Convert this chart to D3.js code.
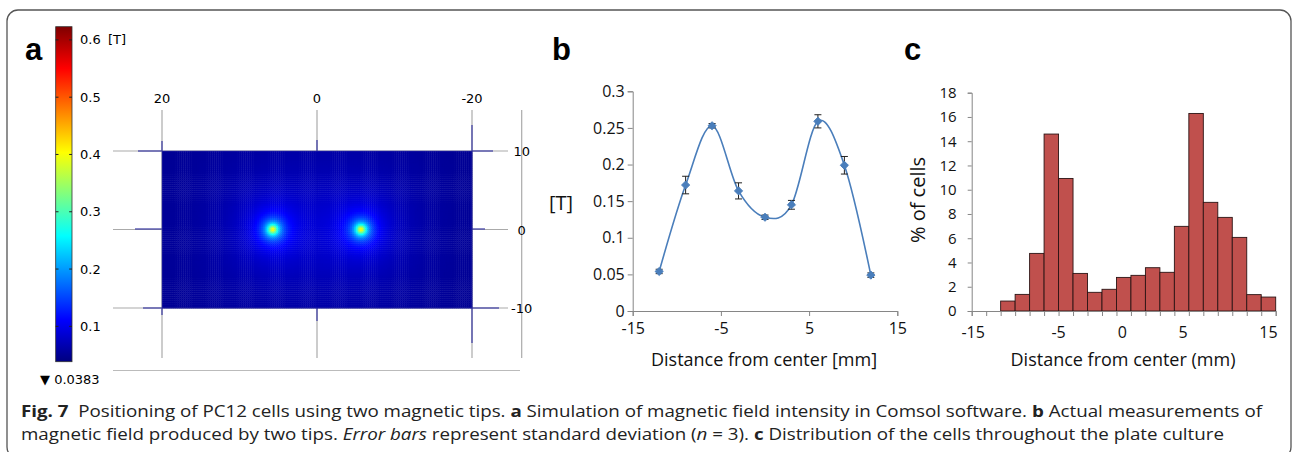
<!DOCTYPE html>
<html lang="en">
<head>
<meta charset="UTF-8">
<title>Fig. 7</title>
<script src="https://cdn.jsdelivr.net/npm/d3@7"></script>
<style>
  body { margin: 0; background: #fff; }
  text { font-family: "Open Sans", "Noto Sans", sans-serif; }
</style>
</head>
<body>
<script>
// ---- panel a : simulated field (two tips) ----
var tipX = [5.7, -5.7];          // mm
var tipY = [0, 0];
var tipPeak = [0.36, 0.36];      // T above the floor
var fieldFloor = 0.0383;         // T, colour bar minimum
var fieldMax = 0.623;
var fieldSpread = 0.5;           // mm
var fieldFalloff = 0.55;
var cbTicks = [0.1, 0.2, 0.3, 0.4, 0.5, 0.6];
var aXTicks = [20, 0, -20];
var aYTicks = [10, 0, -10];

// ---- panel b : measured field ----
var bX = [-12, -9, -6, -3, 0, 3, 6, 9, 12];
var bVal = [0.054, 0.172, 0.253, 0.164, 0.128, 0.145, 0.259, 0.199, 0.049];
var bErr = [0.003, 0.012, 0.003, 0.011, 0.003, 0.006, 0.009, 0.012, 0.003];
var bXTicks = [-15, -5, 5, 15];
var bYTicks = [0, 0.05, 0.1, 0.15, 0.2, 0.25, 0.3];

// ---- panel c : cell distribution (21 bins) ----
var cPct = [0, 0, 0.82, 1.37, 4.75, 14.59, 10.93, 3.10, 1.54, 1.79, 2.77,
            2.94, 3.57, 3.19, 6.98, 16.29, 8.96, 7.72, 6.07, 1.35, 1.15];
var cXLabels = ["-15", "-5", "0", "5", "15"];
var cXLabelBin = [0.1, 6.0, 10.4, 14.6, 20.5];
var cYTicks = [0, 2, 4, 6, 8, 10, 12, 14, 16, 18];

var svg = d3.select("body").append("svg")
    .attr("width", 1292).attr("height", 452);

// outer frame
svg.append("rect")
    .attr("x", 7).attr("y", 10).attr("width", 1284).attr("height", 448)
    .attr("rx", 11).attr("fill", "none")
    .attr("stroke", "#555").attr("stroke-width", 1.3);

// panel letters
[["a", 25], ["b", 552], ["c", 904]].forEach(function (p) {
  svg.append("text").attr("x", p[1]).attr("y", 60).text(p[0])
    .style("font-family", "'Liberation Sans', Arial, sans-serif")
    .style("font-weight", "bold").style("font-size", "31px");
});

function hyphen(d) { return String(d).replace("\u2212", "-"); }

// ================= panel a =================
var jetPos = [0, 0.125, 0.375, 0.625, 0.875, 1];
var jetCol = ["#00007f", "#0000ff", "#00ffff", "#ffff00", "#ff0000", "#7f0000"];
var jet = d3.scaleLinear()
    .domain(jetPos.map(function (t) { return fieldFloor + t * (fieldMax - fieldFloor); }))
    .range(jetCol).clamp(true);

var xA = d3.scaleLinear().domain([20, -20]).range([162, 472]);
var yA = d3.scaleLinear().domain([10, -10]).range([151, 308]);

var ga = svg.append("g");

// grey axis lines
aXTicks.forEach(function (v) {
  ga.append("line").attr("x1", xA(v)).attr("x2", xA(v)).attr("y1", 110).attr("y2", 358)
    .attr("stroke", "#aaa").attr("stroke-width", 1.2);
});
aYTicks.forEach(function (v) {
  ga.append("line").attr("x1", 113).attr("x2", 508).attr("y1", yA(v)).attr("y2", yA(v))
    .attr("stroke", "#aaa").attr("stroke-width", 1.2);
});
ga.append("line").attr("x1", 521.7).attr("x2", 521.7).attr("y1", 110).attr("y2", 358)
  .attr("stroke", "#aaa").attr("stroke-width", 1.2);
ga.append("line").attr("x1", 113).attr("x2", 520).attr("y1", 370.5).attr("y2", 370.5)
  .attr("stroke", "#bbb").attr("stroke-width", 1);

// blue stubs where the axes meet the plane
var stubs = [
  [138, 151, 162, 151], [135, 229, 162, 229], [143, 308, 162, 308],
  [472, 151, 493, 151], [472, 229, 485, 229], [472, 308, 499, 308],
  [162, 141, 162, 151], [317, 140, 317, 151], [472, 125, 472, 151],
  [162, 308, 162, 315], [317, 308, 317, 321], [472, 308, 472, 343]
];
ga.selectAll("line.stub").data(stubs).enter().append("line")
  .attr("x1", function (d) { return d[0]; }).attr("y1", function (d) { return d[1]; })
  .attr("x2", function (d) { return d[2]; }).attr("y2", function (d) { return d[3]; })
  .attr("stroke", "#4646a8").attr("stroke-width", 1.3);

// field cells
var step = 0.25;
var cells = [];
for (var gx = 20; gx > -20 + 1e-9; gx -= step) {
  for (var gy = 10; gy > -10 + 1e-9; gy -= step) {
    var cx = gx - step / 2, cy = gy - step / 2;
    var v = fieldFloor;
    for (var k = 0; k < tipX.length; k++) {
      var r2 = (cx - tipX[k]) * (cx - tipX[k]) + (cy - tipY[k]) * (cy - tipY[k]);
      v += tipPeak[k] / Math.pow(1 + r2 / (fieldSpread * fieldSpread), fieldFalloff);
    }
    cells.push({ x: gx, y: gy, v: v });
  }
}
var cw = xA(20 - step) - xA(20), ch = yA(10 - step) - yA(10);
ga.append("g").selectAll("rect").data(cells).enter().append("rect")
  .attr("x", function (d) { return xA(d.x); })
  .attr("y", function (d) { return yA(d.y); })
  .attr("width", cw + 0.4).attr("height", ch + 0.4)
  .attr("fill", function (d) { return jet(d.v); });
ga.append("rect").attr("x", xA(20)).attr("y", yA(10))
  .attr("width", xA(-20) - xA(20)).attr("height", yA(-10) - yA(10))
  .attr("fill", "none").attr("stroke", "#3a3aa0").attr("stroke-width", 0.6);

var aFont = "'DejaVu Sans', sans-serif";
aXTicks.forEach(function (v) {
  ga.append("text").attr("x", xA(v)).attr("y", 103).attr("text-anchor", "middle")
    .style("font-family", aFont).style("font-size", "13px").text(v);
});
aYTicks.forEach(function (v) {
  ga.append("text").attr("x", 521.7).attr("y", yA(v) + 5).attr("text-anchor", "middle")
    .style("font-family", aFont).style("font-size", "13px").text(v);
});

// colour bar
var cbY = d3.scaleLinear().domain([fieldFloor, fieldMax]).range([361.7, 26.7]);
var grad = svg.append("defs").append("linearGradient").attr("id", "jetGrad")
  .attr("x1", 0).attr("y1", 1).attr("x2", 0).attr("y2", 0);
grad.selectAll("stop").data(jetPos).enter().append("stop")
  .attr("offset", function (d) { return d; })
  .attr("stop-color", function (d, i) { return jetCol[i]; });
ga.append("rect").attr("x", 55.7).attr("y", cbY(fieldMax)).attr("width", 16.3)
  .attr("height", cbY(fieldFloor) - cbY(fieldMax))
  .attr("fill", "url(#jetGrad)").attr("stroke", "#333").attr("stroke-width", 0.8);
cbTicks.forEach(function (t) {
  ga.append("line").attr("x1", 55.7).attr("x2", 58.5).attr("y1", cbY(t)).attr("y2", cbY(t))
    .attr("stroke", "#222");
  ga.append("line").attr("x1", 69.2).attr("x2", 72).attr("y1", cbY(t)).attr("y2", cbY(t))
    .attr("stroke", "#222");
  ga.append("text").attr("x", 80).attr("y", cbY(t) + 4.5)
    .style("font-family", aFont).style("font-size", "13px").text(t);
});
ga.append("text").attr("x", 108).attr("y", cbY(0.6) + 4.5)
  .style("font-family", aFont).style("font-size", "13px").text("[T]");
ga.append("text").attr("x", 40).attr("y", 384)
  .style("font-family", aFont).style("font-size", "13px").text("\u25BC " + fieldFloor);

// ================= panel b =================
var xB = d3.scaleLinear().domain([-15, 15]).range([632.7, 897.3]);
var yB = d3.scaleLinear().domain([0, 0.3]).range([311, 91.3]);
var gb = svg.append("g");
var axisCol = "#868686";

gb.append("g").attr("transform", "translate(0,311)")
  .call(d3.axisBottom(xB).tickValues(bXTicks).tickSize(5).tickPadding(7).tickFormat(hyphen))
  .call(function (g) {
    g.select(".domain").attr("stroke", axisCol);
    g.selectAll(".tick line").attr("stroke", axisCol);
    g.selectAll("text").style("font-size", "16px").attr("fill", "#111")
      .style("font-family", "'Open Sans', sans-serif");
  });
gb.append("g").attr("transform", "translate(632.7,0)")
  .call(d3.axisLeft(yB).tickValues(bYTicks).tickSize(5).tickPadding(3)
    .tickFormat(function (d) { return String(+d.toFixed(2)); }))
  .call(function (g) {
    g.select(".domain").attr("stroke", axisCol);
    g.selectAll(".tick line").attr("stroke", axisCol);
    g.selectAll("text").style("font-size", "16px").attr("fill", "#111")
      .style("font-family", "'Open Sans', sans-serif");
  });

var bPts = bX.map(function (x, i) { return { x: x, v: bVal[i], e: bErr[i] }; });
gb.append("path").datum(bPts)
  .attr("d", d3.line().x(function (d) { return xB(d.x); }).y(function (d) { return yB(d.v); })
    .curve(d3.curveCardinal.tension(0)))
  .attr("fill", "none").attr("stroke", "#4a7ebb").attr("stroke-width", 1.6);

var eb = gb.selectAll("g.err").data(bPts).enter().append("g");
eb.append("line").attr("x1", function (d) { return xB(d.x); }).attr("x2", function (d) { return xB(d.x); })
  .attr("y1", function (d) { return yB(d.v - d.e); }).attr("y2", function (d) { return yB(d.v + d.e); })
  .attr("stroke", "#222").attr("stroke-width", 1);
[-1, 1].forEach(function (s) {
  eb.append("line")
    .attr("x1", function (d) { return xB(d.x) - 3.5; }).attr("x2", function (d) { return xB(d.x) + 3.5; })
    .attr("y1", function (d) { return yB(d.v + s * d.e); }).attr("y2", function (d) { return yB(d.v + s * d.e); })
    .attr("stroke", "#222").attr("stroke-width", 1);
});
gb.selectAll("path.mk").data(bPts).enter().append("path")
  .attr("transform", function (d) { return "translate(" + xB(d.x) + "," + yB(d.v) + ")"; })
  .attr("d", d3.symbol().type(d3.symbolDiamond2).size(42))
  .attr("fill", "#4a7ebb").attr("stroke", "#4a7ebb").attr("stroke-width", 1);

gb.append("text").attr("x", 764).attr("y", 366).attr("text-anchor", "middle")
  .style("font-size", "18px").attr("fill", "#111").text("Distance from center [mm]");
gb.append("text").attr("x", 561).attr("y", 210).attr("text-anchor", "middle")
  .style("font-size", "20px").attr("fill", "#111").text("[T]");

// ================= panel c =================
var xC = d3.scaleBand().domain(d3.range(cPct.length)).range([971.7, 1275.7]).padding(0);
var xCl = d3.scaleLinear().domain([0, cPct.length]).range([971.7, 1275.7]);
var yC = d3.scaleLinear().domain([0, 18]).range([311, 92.7]);
var gc = svg.append("g");

gc.selectAll("rect").data(cPct.map(function (v, i) { return { i: i, v: v }; })
    .filter(function (d) { return d.v > 0; }))
  .enter().append("rect")
  .attr("x", function (d) { return xC(d.i); })
  .attr("y", function (d) { return yC(d.v); })
  .attr("width", xC.bandwidth())
  .attr("height", function (d) { return yC(0) - yC(d.v); })
  .attr("fill", "#c0504d").attr("stroke", "#2b1414").attr("stroke-width", 0.9);

gc.append("g").attr("transform", "translate(0,311)")
  .call(d3.axisBottom(xCl).tickValues(d3.range(cPct.length + 1)).tickSize(5).tickFormat(""))
  .call(function (g) {
    g.select(".domain").attr("stroke", axisCol);
    g.selectAll(".tick line").attr("stroke", axisCol);
  });
cXLabels.forEach(function (lab, i) {
  gc.append("text").attr("x", xCl(cXLabelBin[i])).attr("y", 338).attr("text-anchor", "middle")
    .style("font-size", "16px").attr("fill", "#111").text(lab);
});
gc.append("g").attr("transform", "translate(971.7,0)")
  .call(d3.axisLeft(yC).tickValues(cYTicks).tickSize(4).tickPadding(11))
  .call(function (g) {
    g.select(".domain").attr("stroke", axisCol);
    g.selectAll(".tick line").attr("stroke", axisCol);
    g.selectAll("text").style("font-size", "15px").attr("fill", "#111")
      .style("font-family", "'Open Sans', sans-serif");
  });
gc.append("text").attr("x", 1123).attr("y", 366).attr("text-anchor", "middle")
  .style("font-size", "18px").attr("fill", "#111").text("Distance from center (mm)");
gc.append("text").attr("transform", "translate(925,200) rotate(-90)").attr("text-anchor", "middle")
  .style("font-size", "20px").attr("fill", "#111").text("% of cells");

// ================= caption =================
var cap1 = [["Fig. 7", "b"], ["  Positioning of PC12 cells using two magnetic tips. ", ""], ["a", "b"],
  [" Simulation of magnetic field intensity in Comsol software. ", ""], ["b", "b"], [" Actual measurements of", ""]];
var cap2 = [["magnetic field produced by two tips. ", ""], ["Error bars", "i"],
  [" represent standard deviation (", ""], ["n", "i"], [" = 3). ", ""], ["c", "b"],
  [" Distribution of the cells throughout the plate culture", ""]];
function caption(parts, y) {
  var t = svg.append("text").attr("x", 21).attr("y", y)
    .style("font-size", "16px").attr("fill", "#222").style("white-space", "pre");
  parts.forEach(function (p) {
    var s = t.append("tspan").text(p[0]);
    if (p[1] === "b") s.style("font-weight", "bold");
    if (p[1] === "i") s.style("font-style", "italic");
  });
  return t;
}
var line1 = caption(cap1, 417), line2 = caption(cap2, 440);
// squeeze both lines by the factor that makes line 1 fit its width
var squeeze = 1241 / line1.node().getComputedTextLength();
[line1, line2].forEach(function (t) {
  var w = t.node().getComputedTextLength();
  t.attr("textLength", w * squeeze).attr("lengthAdjust", "spacingAndGlyphs");
});
</script>
</body>
</html>
